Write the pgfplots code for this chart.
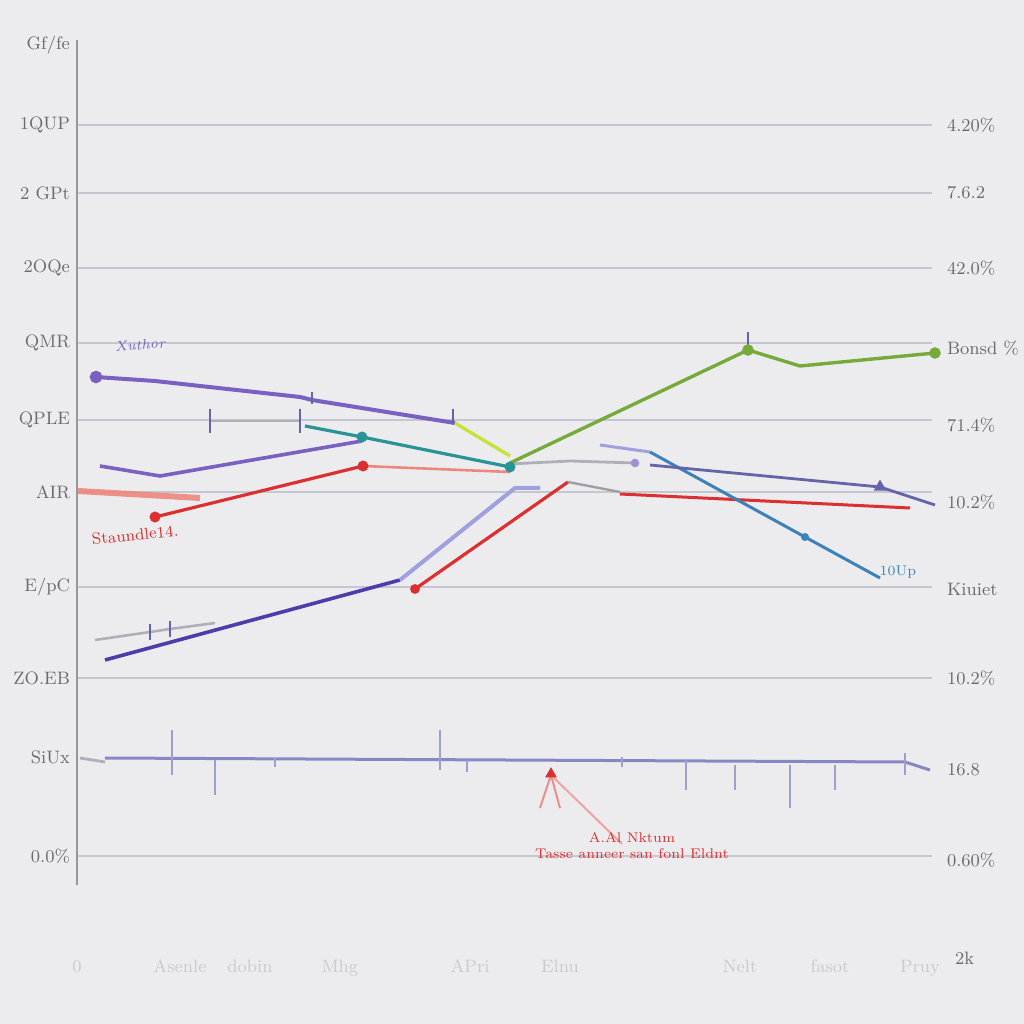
\documentclass[border=0pt]{standalone}
\usepackage{pgfplots}
\pgfplotsset{compat=1.18}
\definecolor{bg}{RGB}{236,236,238}
\definecolor{gridc}{RGB}{196,198,210}
\definecolor{axisc}{RGB}{150,150,155}
\definecolor{labc}{RGB}{105,105,110}
\definecolor{purp}{RGB}{122,96,192}
\definecolor{grn}{RGB}{118,170,58}
\definecolor{limec}{RGB}{200,226,60}
\definecolor{tealc}{RGB}{40,148,150}
\definecolor{steel}{RGB}{60,130,185}
\definecolor{redc}{RGB}{220,48,48}
\definecolor{salm}{RGB}{236,135,125}
\definecolor{indig}{RGB}{78,60,170}
\definecolor{lav}{RGB}{160,160,222}
\definecolor{navyl}{RGB}{100,100,170}
\definecolor{flatc}{RGB}{135,135,195}
\definecolor{lgray}{RGB}{175,175,185}
\begin{document}
\begin{tikzpicture}[x=1pt,y=1pt]
\fill[bg] (0,0) rectangle (512,512);
\begin{axis}[
  at={(38.5pt,69.5pt)}, anchor=south west,
  scale only axis, width=427.5pt, height=422.5pt,
  xmin=77, xmax=932, ymin=139, ymax=984,
  clip=false,
  axis lines*=left,
  x axis line style={draw=none},
  y axis line style={-, draw=axisc, line width=0.9pt},
  tick style={draw=none},
  ymajorgrids, grid style={gridc, line width=0.7pt},
  ytick={168,346,437,532,604,681,756,831,899},
  yticklabels={0.0\%, ZO.EB, E/pC, AIR, QPLE, QMR, 2OQe, 2 GPt, 1QUP},
  extra y ticks={267,979},
  extra y tick labels={SiUx, Gf/fe},
  extra y tick style={grid=none},
  yticklabel style={font=\small, text=labc},
  xtick={77,180,250,340,470,560,740,830,920},
  xticklabels={0, Asenle, dobin, Mhg, APri, Elnu, Nelt, fasot, Pruy},
  xticklabel style={font=\small, text=labc!35, yshift=-34pt},
]
% flat series
\addplot[lgray, line width=1.4pt] coordinates {(80,266)(105,262)};
\addplot[flatc, line width=1.5pt] coordinates {(105,266)(905,262)(930,254)};
\addplot[draw=none, mark=none, error bars/.cd, y dir=both, y explicit,
  error bar style={draw=flatc!80, line width=1pt}, error mark=none]
  coordinates {(172,271.5)+-(0,22.5) (215,246.5)+-(0,17.5) (275,261.5)+-(0,4.5)
  (440,274)+-(0,20) (467,258)+-(0,6) (622,262)+-(0,5) (686,249)+-(0,15) (735,246.5)+-(0,12.5)
  (790,237.5)+-(0,21.5) (835,246.5)+-(0,12.5) (905,260)+-(0,11)};
% red annotation
\addplot[redc!55, line width=1pt] coordinates {(540,216)(551,249)(560,216)};
\addplot[redc!45, line width=1pt] coordinates {(551,249)(622,180)};
\addplot[redc, only marks, mark=triangle*, mark size=3pt] coordinates {(551,250)};
% indigo / lower series
\addplot[lgray, line width=1.3pt, mark=|, mark size=4pt, mark options={draw=navyl}, mark indices={2,3}] coordinates {(95,384)(150,392)(170,395)(215,401)};
\addplot[indig, line width=1.8pt] coordinates {(105,364)(400,444)};
\addplot[lav, line width=2pt] coordinates {(400,444)(515,536)(540,536)};
\addplot[redc, line width=1.6pt, mark=*, mark size=1.6pt, mark indices={1}] coordinates {(415,435)(568,542)};
\addplot[lgray!90!black, line width=1.2pt] coordinates {(568,542)(620,532)};
\addplot[redc, line width=1.5pt] coordinates {(620,530)(910,516)};
% middle series
\addplot[salm, line width=3pt, opacity=0.9] coordinates {(78,533)(200,526)};
\addplot[redc, line width=1.6pt, mark=*, mark size=1.9pt] coordinates {(155,507)(363,558)};
\addplot[salm, line width=1.3pt] coordinates {(363,558)(510,552)};
\addplot[purp, line width=1.8pt] coordinates {(100,558)(160,548)(362,583)};
\addplot[lgray, line width=1.2pt, mark=|, mark size=6pt, mark options={draw=navyl}, mark indices={1,2}] coordinates {(210,603)(300,603)};
\addplot[tealc, line width=1.6pt, mark=*, mark size=1.9pt, mark indices={2,3}] coordinates {(305,598)(362,587)(510,557)};
\addplot[lgray, line width=1.4pt, mark=*, mark size=1.4pt, mark options={fill=purp!70, draw=purp!70}, mark indices={3}] coordinates {(510,560)(570,563)(635,561)};
\addplot[lav, line width=1.5pt] coordinates {(600,579)(650,572)};
\addplot[steel, line width=1.5pt, mark=*, mark size=1.2pt, mark indices={2}] coordinates {(650,572)(805,487)(880,446)};
\addplot[navyl, line width=1.4pt, mark=triangle*, mark size=2.3pt, mark indices={2}] coordinates {(650,559)(880,537)(935,519)};
% top series
\addplot[purp, line width=2pt, mark=*, mark size=2.1pt, mark indices={1}] coordinates {(96,647)(155,643)(300,627)(312,624)(455,601)};
\addplot[limec, line width=1.7pt] coordinates {(455,601)(510,568)};
\addplot[grn, line width=1.7pt, mark=*, mark size=2pt, mark indices={2,4}] coordinates {(510,561)(748,674)(800,658)(935,671)};
\addplot[draw=none, mark=none, error bars/.cd, y dir=both, y explicit,
  error bar style={draw=navyl, line width=0.9pt}, error mark=none]
  coordinates {(453,607)+-(0,8) (748,682)+-(0,10) (312,626)+-(0,6)};
% text annotations
\node[font=\scriptsize\itshape, text=indig!80, rotate=5] at (axis cs:140,679) {Xuthor};
\node[font=\footnotesize, text=redc, rotate=6] at (axis cs:135,489) {Staundle14.};
\node[font=\scriptsize, text=steel] at (axis cs:898,452) {10Up};
\node[font=\scriptsize, text=redc, align=center, inner sep=0pt] at (axis cs:632,178) {A.Al Nktum\\Tasse anneer san fonl Eldnt};
\node[font=\small, text=labc, anchor=west] at (axis cs:948,66) {2k};
\end{axis}
\begin{axis}[
  at={(38.5pt,69.5pt)}, anchor=south west,
  scale only axis, width=427.5pt, height=422.5pt,
  xmin=77, xmax=932, ymin=139, ymax=984,
  hide x axis,
  axis y line*=right,
  y axis line style={draw=none},
  tick style={draw=none},
  ytick={164,254,346,435,522,599,676,756,831,899},
  yticklabels={0.60\%, 16.8, 10.2\%, Kiuiet, 10.2\%, 71.4\%, Bonsd \%, 42.0\%, 7.6.2, 4.20\%},
  yticklabel style={font=\small, text=labc, xshift=4pt},
]
\end{axis}
\pgfresetboundingbox
\path[use as bounding box] (0,0) rectangle (512,512);
\end{tikzpicture}
\end{document}
